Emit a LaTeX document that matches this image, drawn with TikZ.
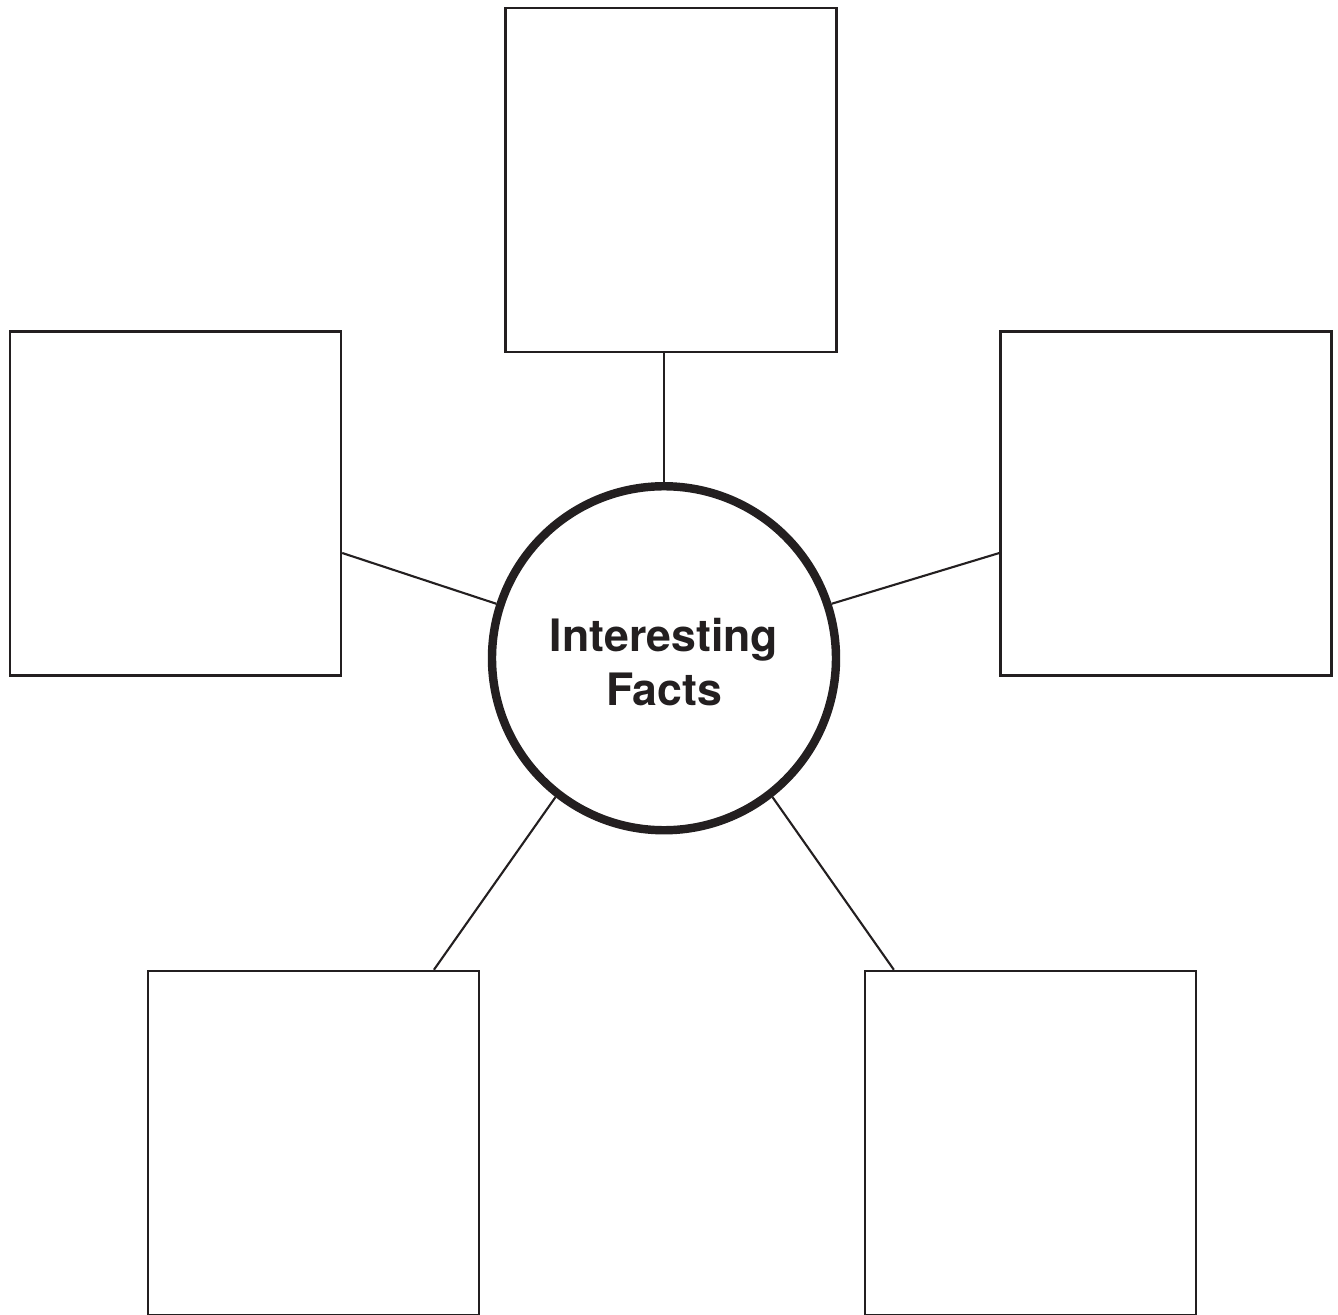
\documentclass[tikz,border=0pt]{standalone}
\usepackage{fontspec}
\setsansfont{TeX Gyre Heros}
\usetikzlibrary{positioning}
\definecolor{ink}{HTML}{231F20}

\begin{document}
\begin{tikzpicture}[
  factbox/.style={rectangle,draw=ink,line width=0.7pt,inner sep=0pt,minimum width=3.31cm,minimum height=3.44cm},
  hub/.style={circle,draw=ink,line width=2.4pt,inner sep=0pt,minimum size=3.44cm,align=center,text=ink,
    font=\sffamily\bfseries\fontsize{12.7}{15.2}\selectfont},
  spoke/.style={draw=ink,line width=0.6pt}]
\useasboundingbox (0,0) rectangle (13.38,13.15);

\node[hub] (circ) at (6.64,6.5675) {\rule{0pt}{11.6pt}Interesting\\Facts};

\node[factbox] (tbox) at (6.711,11.3525) {};
\node[factbox] (lbox) at (1.755,8.115) {};
\node[factbox] (rbox) at (11.661,8.115) {};
\node[factbox] (blbox) at (3.137,1.72) {};
\node[factbox] (brbox) at (10.306,1.72) {};

\draw[spoke] (circ.90) -- (circ.90 |- tbox.south);
\draw[spoke] (circ.162) -- ([yshift=-0.495cm]lbox.east);
\draw[spoke] (circ.18) -- ([yshift=-0.495cm]rbox.west);
\draw[spoke] (circ.232) -- ([xshift=-0.465cm]blbox.north east);
\draw[spoke] (circ.308) -- ([xshift=0.30cm]brbox.north west);

\end{tikzpicture}
\end{document}
